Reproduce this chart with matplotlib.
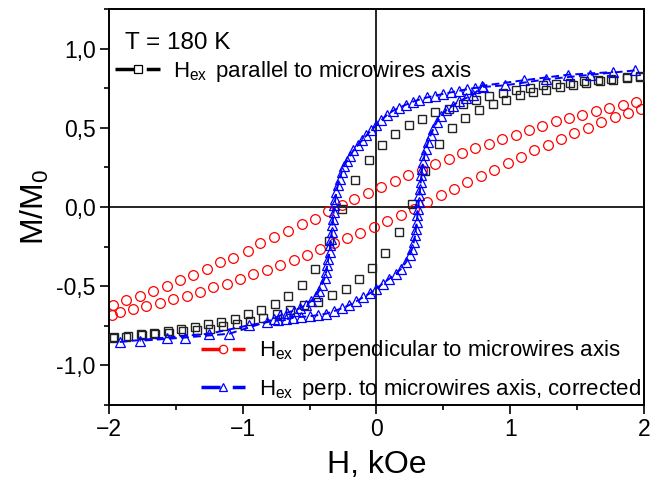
import matplotlib
matplotlib.use('Agg')
import matplotlib.pyplot as plt
from matplotlib.lines import Line2D

plt.rcParams['font.family'] = ['Liberation Sans', 'DejaVu Sans']
plt.rcParams['mathtext.fontset'] = 'custom'
plt.rcParams['mathtext.rm'] = 'Liberation Sans'
plt.rcParams['mathtext.it'] = 'Liberation Sans:italic'

# H_ex parallel (black squares), descending and ascending branches
par_dn_h = [1.97, 1.87, 1.755, 1.655, 1.555, 1.445, 1.345, 1.245, 1.145, 1.045, 0.945, 0.845,
            0.745, 0.645, 0.54, 0.44, 0.34, 0.24, 0.14, 0.043, -0.057, -0.157, -0.256, -0.357,
            -0.46, -0.556, -0.66, -0.76, -0.86, -0.96, -1.06, -1.16, -1.26, -1.36, -1.46, -1.56,
            -1.66, -1.76, -1.86, -1.96]
par_dn_m = [0.825, 0.82, 0.81, 0.804, 0.793, 0.785, 0.778, 0.768, 0.751, 0.736, 0.72, 0.70,
            0.678, 0.648, 0.62, 0.60, 0.557, 0.515, 0.459, 0.389, 0.295, 0.168, -0.01, -0.216,
            -0.389, -0.494, -0.56, -0.61, -0.652, -0.678, -0.705, -0.726, -0.741, -0.757, -0.772, -0.785,
            -0.795, -0.804, -0.814, -0.82]
par_up_h = [-1.97, -1.87, -1.755, -1.655, -1.555, -1.445, -1.345, -1.245, -1.145, -1.045, -0.945,
            -0.845, -0.745, -0.645, -0.54, -0.44, -0.33, -0.23, -0.13, -0.03, 0.067, 0.167, 0.267,
            0.366, 0.466, 0.566, 0.665, 0.77, 0.87, 0.97, 1.07, 1.17, 1.27, 1.37, 1.47, 1.57, 1.67,
            1.77, 1.87, 1.97]
par_up_m = [-0.825, -0.82, -0.81, -0.804, -0.793, -0.785, -0.778, -0.768, -0.751, -0.736, -0.72,
            -0.70, -0.678, -0.648, -0.62, -0.60, -0.557, -0.515, -0.456, -0.385, -0.288, -0.158, 0.021,
            0.227, 0.396, 0.498, 0.564, 0.61, 0.652, 0.678, 0.705, 0.726, 0.741, 0.757, 0.772, 0.785, 0.795,
            0.804, 0.814, 0.82]

# H_ex perpendicular (red circles)
perp_dn_h = [1.94, 1.84, 1.74, 1.64, 1.54, 1.44, 1.34, 1.24, 1.14, 1.04, 0.94, 0.84, 0.74, 0.64,
             0.54, 0.44, 0.34, 0.235, 0.135, 0.035, -0.065, -0.165, -0.26, -0.36, -0.46, -0.56,
             -0.66, -0.77, -0.87, -0.96, -1.07, -1.17, -1.27, -1.37, -1.47, -1.57, -1.67, -1.77,
             -1.87, -1.97]
perp_dn_m = [0.662, 0.647, 0.626, 0.605, 0.582, 0.561, 0.54, 0.51, 0.484, 0.456, 0.43, 0.40, 0.37, 0.34,
             0.305, 0.269, 0.235, 0.199, 0.163, 0.128, 0.086, 0.048, 0.01, -0.025, -0.073, -0.109,
             -0.153, -0.19, -0.23, -0.28, -0.32, -0.35, -0.39, -0.43, -0.46, -0.50, -0.53, -0.56,
             -0.59, -0.62]
perp_up_h = [-1.98, -1.92, -1.82, -1.72, -1.62, -1.52, -1.42, -1.32, -1.22, -1.12, -1.02, -0.92,
             -0.82, -0.72, -0.62, -0.52, -0.42, -0.32, -0.22, -0.12, -0.02, 0.08, 0.18, 0.28, 0.38,
             0.48, 0.58, 0.68, 0.78, 0.88, 0.98, 1.08, 1.18, 1.28, 1.38, 1.48, 1.58, 1.68, 1.78,
             1.88, 1.98]
perp_up_m = [-0.68, -0.666, -0.641, -0.626, -0.606, -0.582, -0.562, -0.536, -0.508, -0.483, -0.456,
             -0.425, -0.395, -0.365, -0.332, -0.30, -0.267, -0.23, -0.196, -0.161, -0.126, -0.088,
             -0.052, -0.012, 0.03, 0.078, 0.116, 0.155, 0.196, 0.236, 0.278, 0.315, 0.358, 0.393,
             0.431, 0.467, 0.501, 0.536, 0.568, 0.593, 0.621]

# H_ex perpendicular, corrected (blue triangles)
cor_dn_h = [1.93, 1.60, 1.27, 0.96, 0.80, 0.74, 0.68, 0.62, 0.56, 0.50, 0.44, 0.38, 0.32, 0.27,
            0.22, 0.17, 0.12, 0.075, 0.035, 0.0, -0.04, -0.075, -0.107, -0.14, -0.172, -0.20,
            -0.222, -0.24, -0.26, -0.275, -0.289, -0.30, -0.307, -0.314, -0.32, -0.325, -0.33,
            -0.334, -0.341, -0.346, -0.351, -0.36, -0.368, -0.376, -0.388, -0.408, -0.43, -0.455,
            -0.49, -0.53, -0.575, -0.62, -0.67, -0.72, -0.77, -0.82, -1.10, -1.43, -1.77]
cor_dn_m = [0.862, 0.835, 0.806, 0.768, 0.758, 0.752, 0.744, 0.734, 0.724, 0.714, 0.703, 0.692,
            0.678, 0.664, 0.646, 0.627, 0.606, 0.578, 0.547, 0.516, 0.484, 0.452, 0.421, 0.39,
            0.358, 0.32, 0.29, 0.262, 0.22, 0.178, 0.136, 0.094, 0.052, 0.01, -0.032, -0.074,
            -0.116, -0.158, -0.20, -0.242, -0.284, -0.326, -0.368, -0.41, -0.45, -0.49, -0.53,
            -0.565, -0.595, -0.62, -0.64, -0.655, -0.668, -0.685, -0.705, -0.725, -0.80, -0.824,
            -0.845]
cor_up_h = [-1.92, -1.57, -1.25, -0.95, -0.74, -0.675, -0.626, -0.563, -0.50, -0.44, -0.376,
            -0.314, -0.26, -0.205, -0.15, -0.10, -0.05, 0.0, 0.047, 0.097, 0.147, 0.185, 0.222,
            0.247, 0.267, 0.279, 0.289, 0.295, 0.301, 0.306, 0.311, 0.316, 0.321, 0.326, 0.331,
            0.336, 0.341, 0.349, 0.359, 0.371, 0.386, 0.404, 0.426, 0.45, 0.485, 0.52, 0.57, 0.62,
            0.67, 0.72, 0.79, 1.10, 1.43, 1.77]
cor_up_m = [-0.852, -0.824, -0.80, -0.746, -0.715, -0.708, -0.698, -0.694, -0.69, -0.683, -0.673,
            -0.656, -0.64, -0.62, -0.595, -0.57, -0.545, -0.515, -0.483, -0.452, -0.42, -0.389,
            -0.347, -0.305, -0.263, -0.221, -0.178, -0.136, -0.095, -0.053, -0.011, 0.031, 0.073,
            0.115, 0.158, 0.20, 0.242, 0.284, 0.326, 0.368, 0.41, 0.452, 0.494, 0.536, 0.575, 0.61,
            0.64, 0.669, 0.688, 0.705, 0.765, 0.80, 0.835, 0.852]

x_ticks = [-2, -1, 0, 1, 2]
y_ticks = [-1.0, -0.5, 0.0, 0.5, 1.0]
y_ticklabels = ['-1,0', '-0,5', '0,0', '0,5', '1,0']

lab_par = r'H$_\mathrm{ex}$$\,$ parallel to microwires axis'
lab_perp = r'H$_\mathrm{ex}$$\,$ perpendicular to microwires axis'
lab_cor = r'H$_\mathrm{ex}$$\,$ perp. to microwires axis, corrected'

fig = plt.figure(figsize=(6.5, 4.87), dpi=100)
ax = fig.add_axes([0.1677, 0.1684, 0.823, 0.8131])

ax.axhline(0, color='k', lw=1.2, zorder=1)
ax.axvline(0, color='k', lw=1.2, zorder=1)

for h, m in [(perp_dn_h, perp_dn_m), (perp_up_h, perp_up_m)]:
    ax.plot(h, m, ls='none', marker='o', ms=7, mfc='none', mec='#ff0000', mew=0.9, zorder=2)
for h, m in [(par_dn_h, par_dn_m), (par_up_h, par_up_m)]:
    ax.plot(h, m, ls='none', marker='s', ms=6.2, mfc='none', mec='#222222', mew=1.0, zorder=3)
for h, m in [(cor_dn_h, cor_dn_m), (cor_up_h, cor_up_m)]:
    ax.plot(h, m, color='#0000ff', lw=1.4, dashes=(4, 2.2), zorder=4)
    ax.plot(h, m, ls='none', marker='^', ms=7.2, mfc='none', mec='#0000ff', mew=0.9, zorder=5)

ax.set_xlim(-2, 2)
ax.set_ylim(-1.25, 1.25)
ax.set_xticks(x_ticks)
ax.set_xticks([-1.5, -0.5, 0.5, 1.5], minor=True)
ax.set_yticks(y_ticks)
ax.set_yticklabels(y_ticklabels)
ax.set_yticks([-1.25, -0.75, -0.25, 0.25, 0.75, 1.25], minor=True)
ax.tick_params(which='both', direction='out', width=1.2, labelsize=16.5, top=False, right=False)
ax.tick_params(which='major', length=6.5, pad=3)
ax.tick_params(which='minor', length=3.5)
for s in ax.spines.values():
    s.set_linewidth(1.4)

ax.set_xlabel('H, kOe', fontsize=23, labelpad=6)
ax.set_ylabel('M/M$_0$', fontsize=23, labelpad=4)

ax.text(0.029, 0.899, 'T = 180 K', transform=ax.transAxes, fontsize=17.5, va='baseline', ha='left')

def handle(color, marker):
    return Line2D([], [], color=color, lw=2.5, dashes=(5.5, 3.5), marker=marker, ms=6,
                  mfc='none', mec=color, mew=0.9)

leg1 = ax.legend([handle('k', 's')], [lab_par], loc='center left', bbox_to_anchor=(0.012, 0.843),
                 frameon=False, fontsize=16, handlelength=2.0, handletextpad=0.6,
                 borderpad=0, borderaxespad=0)
ax.add_artist(leg1)
ax.legend([handle('#ff0000', 'o'), handle('#0000ff', '^')], [lab_perp, lab_cor],
          loc='lower right', bbox_to_anchor=(1.0, 0.0), frameon=False, fontsize=16,
          handlelength=2.0, handletextpad=0.6, labelspacing=0.6, borderpad=0.15,
          borderaxespad=0)

fig.savefig('out.png', dpi=100)
